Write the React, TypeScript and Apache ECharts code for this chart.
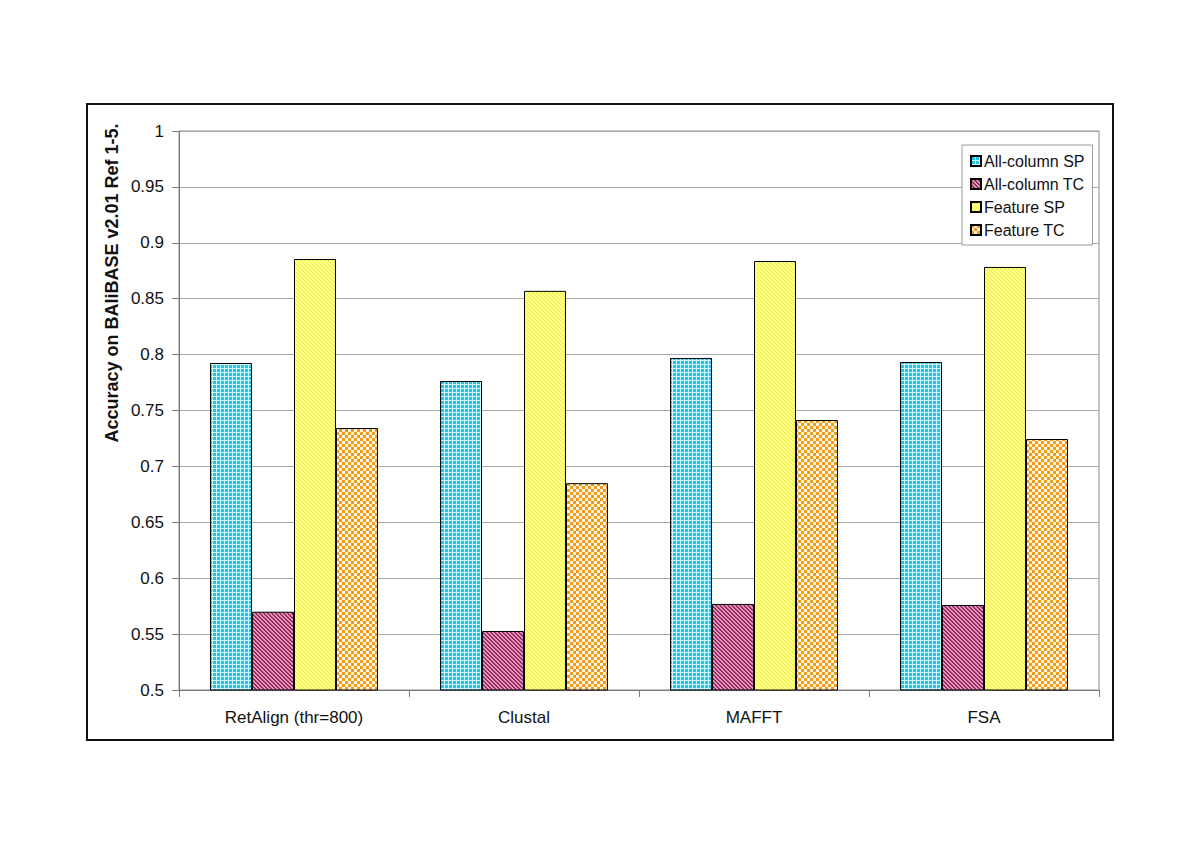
import React, { useEffect, useRef } from "react";
import * as echarts from "echarts";

const categories = ["RetAlign (thr=800)", "Clustal", "MAFFT", "FSA"];
const seriesNames = ["All-column SP", "All-column TC", "Feature SP", "Feature TC"];
const allColumnSP = [0.7925, 0.7764, 0.797, 0.7934];
const allColumnTC = [0.570, 0.5528, 0.577, 0.576];
const featureSP = [0.8855, 0.857, 0.8837, 0.8784];
const featureTC = [0.7343, 0.685, 0.7415, 0.7245];
const yTicks = { min: 0.5, max: 1, interval: 0.05 };
const yTitle = "Accuracy on BAliBASE v2.01 Ref 1-5.";

function makePattern(kind: string): any {
  const c = document.createElement("canvas");
  const ctx = c.getContext("2d") as CanvasRenderingContext2D;
  if (kind === "grid") {
    c.width = 4; c.height = 4;
    ctx.fillStyle = "#22c4ec"; ctx.fillRect(0, 0, 4, 4);
    ctx.fillStyle = "#d4f6fd"; ctx.fillRect(0, 0, 4, 1); ctx.fillRect(0, 0, 1, 4);
  } else if (kind === "purple") {
    c.width = 4; c.height = 4;
    ctx.fillStyle = "#96305f"; ctx.fillRect(0, 0, 4, 4);
    ctx.fillStyle = "#e494c0";
    for (let i = 0; i < 4; i++) { ctx.fillRect(i, i, 1, 1); ctx.fillRect((i + 1) % 4, i, 1, 1); }
  } else if (kind === "yellow") {
    c.width = 4; c.height = 4;
    ctx.fillStyle = "#ffff80"; ctx.fillRect(0, 0, 4, 4);
    ctx.fillStyle = "#eaea50";
    for (let i = 0; i < 4; i++) { ctx.fillRect(i, i, 1, 1); }
  } else {
    c.width = 6; c.height = 6;
    ctx.fillStyle = "#fff4dc"; ctx.fillRect(0, 0, 6, 6);
    ctx.fillStyle = "#f29a1c"; ctx.fillRect(0, 0, 3, 3); ctx.fillRect(3, 3, 3, 3);
  }
  return { image: c, repeat: "repeat" };
}

export default function App() {
  const ref = useRef<HTMLDivElement>(null);
  useEffect(() => {
    document.body.style.margin = "0";
    const chart = echarts.init(ref.current as HTMLDivElement, null, { renderer: "svg" });
    const patterns = [makePattern("grid"), makePattern("purple"), makePattern("yellow"), makePattern("checker")];
    const data = [allColumnSP, allColumnTC, featureSP, featureTC];
    const font = "Liberation Sans, Arial, sans-serif";
    chart.setOption({
      animation: false,
      backgroundColor: "#ffffff",
      textStyle: { fontFamily: font },
      grid: { left: 179, top: 131, width: 920, height: 559, show: true, borderColor: "#8c8c8c", borderWidth: 1, containLabel: false },
      legend: {
        orient: "vertical",
        left: 962,
        top: 145,
        padding: [8, 8, 7, 8],
        itemGap: 7,
        itemWidth: 10,
        itemHeight: 10,
        borderColor: "#9a9a9a",
        borderWidth: 1,
        borderRadius: 0,
        backgroundColor: "#ffffff",
        icon: "rect",
        textStyle: { fontSize: 16, color: "#111", fontFamily: font, padding: [0, 0, 0, -2] },
        data: seriesNames,
      },
      xAxis: {
        type: "category",
        data: categories,
        axisLine: { lineStyle: { color: "#7a7a7a", width: 1 } },
        axisTick: { show: true, length: 7, lineStyle: { color: "#7a7a7a" } },
        axisLabel: { fontSize: 17, color: "#111", margin: 19, fontFamily: font },
      },
      yAxis: {
        type: "value",
        min: yTicks.min,
        max: yTicks.max,
        interval: yTicks.interval,
        axisLine: { show: true, lineStyle: { color: "#7a7a7a", width: 1 } },
        axisTick: { show: true, length: 7, lineStyle: { color: "#7a7a7a" } },
        axisLabel: { fontSize: 17, color: "#111", margin: 15, fontFamily: font },
        splitLine: { lineStyle: { color: "#a8a8a8", width: 1 } },
      },
      graphic: [
        { type: "rect", shape: { x: 87, y: 104, width: 1026, height: 636 }, style: { fill: "none", stroke: "#111", lineWidth: 2 }, z: -1 },
        {
          type: "text",
          x: 112,
          y: 283,
          rotation: Math.PI / 2,
          style: { text: yTitle, fontSize: 18, fontWeight: "bold", fill: "#111", fontFamily: font, align: "center", verticalAlign: "middle" },
        },
      ],
      series: seriesNames.map((name, i) => ({
        name,
        type: "bar",
        data: data[i],
        barGap: "0%",
        barCategoryGap: "27%",
        itemStyle: { color: patterns[i], borderColor: "#000", borderWidth: 1 },
      })),
    });
    return () => chart.dispose();
  }, []);
  return <div ref={ref} style={{ position: "fixed", left: 0, top: 0, width: 1200, height: 848 }} />;
}
